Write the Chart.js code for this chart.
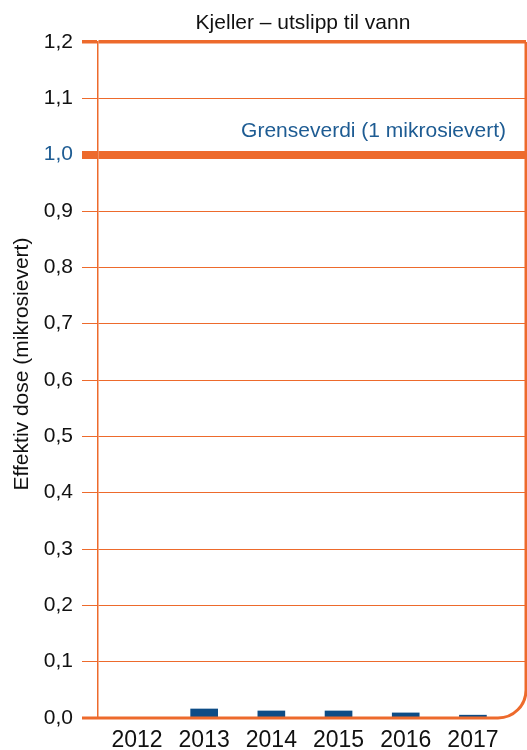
<!DOCTYPE html>
<html>
<head>
<meta charset="utf-8">
<script src="https://cdn.jsdelivr.net/npm/chart.js@4/dist/chart.umd.min.js"></script>
<style>
  html, body { margin: 0; padding: 0; background: #ffffff; }
  #wrap { width: 527px; height: 750px; position: relative; }
</style>
</head>
<body>
<div id="wrap"><canvas id="c"></canvas></div>
<script>
// Årlig effektiv dose fra utslipp til vann, Kjeller
const categories = ['2012', '2013', '2014', '2015', '2016', '2017'];
const doses = [0, 0.016, 0.0125, 0.0125, 0.009, 0.005];
const limitValue = 1.0;
const limitLabel = 'Grenseverdi (1 mikrosievert)';
const chartTitle = 'Kjeller – utslipp til vann';
const yTitle = 'Effektiv dose (mikrosievert)';
const yTicks = [0, 0.1, 0.2, 0.3, 0.4, 0.5, 0.6, 0.7, 0.8, 0.9, 1.0, 1.1, 1.2];

const ORANGE = '#ED6A2C';
const BLUE = '#0D4C86';
const TEXTBLUE = '#1E5C93';
const DARK = '#111111';
const FONT = 'Liberation Sans, Arial, sans-serif';

const isVal = (v, t) => Math.abs(v - t) < 1e-6;

// Frame: right edge with rounded lower corner, zero line, titles and limit text
const framePlugin = {
  id: 'frame',
  afterDatasetsDraw(chart) {
    const { ctx, chartArea, scales } = chart;
    const y = scales.y;
    const bottom = y.getPixelForValue(0);
    const top = y.getPixelForValue(y.max);
    const right = chartArea.right;
    const r = 28;
    ctx.save();
    ctx.strokeStyle = ORANGE;
    ctx.lineCap = 'butt';
    // zero line with rounded corner up into the right edge
    ctx.lineWidth = 3;
    ctx.beginPath();
    ctx.moveTo(chartArea.left - 16, bottom);
    ctx.lineTo(right - r, bottom);
    ctx.arcTo(right, bottom, right, bottom - r, r);
    ctx.lineTo(right, top);
    ctx.stroke();

    // limit label above the limit line
    ctx.fillStyle = TEXTBLUE;
    ctx.font = '21px ' + FONT;
    ctx.textAlign = 'right';
    ctx.textBaseline = 'alphabetic';
    ctx.fillText(limitLabel, right - 20, y.getPixelForValue(limitValue) - 18);

    // chart title, centred a little left of the plot middle
    ctx.fillStyle = DARK;
    ctx.font = '21px ' + FONT;
    ctx.textAlign = 'center';
    ctx.fillText(chartTitle, (chartArea.left + right) / 2 - 9, 29);

    // y axis title
    ctx.translate(28, (top + bottom) / 2 - 16);
    ctx.rotate(-Math.PI / 2);
    ctx.font = '21px ' + FONT;
    ctx.textAlign = 'center';
    ctx.fillText(yTitle, 0, 0);
    ctx.restore();
  }
};

new Chart(document.getElementById('c'), {
  type: 'bar',
  data: {
    datasets: [{
      data: categories.map((c, i) => ({ x: i, y: doses[i] })),
      backgroundColor: BLUE,
      borderWidth: 0,
      barThickness: 27
    }]
  },
  options: {
    responsive: true,
    maintainAspectRatio: false,
    animation: false,
    devicePixelRatio: 1,
    layout: { padding: { left: 0, right: 1, top: 42, bottom: 0 } },
    plugins: {
      legend: { display: false },
      tooltip: { enabled: false },
      title: { display: false }
    },
    scales: {
      x: {
        type: 'linear',
        offset: false,
        min: -0.58,
        max: 5.79,
        grid: { display: false },
        border: { display: false },
        afterBuildTicks: s => { s.ticks = categories.map((c, i) => ({ value: i })); },
        afterFit: s => { s.height = 32; },
        ticks: {
          autoSkip: false,
          maxRotation: 0,
          padding: 1,
          color: DARK,
          font: { family: FONT, size: 23 },
          callback: v => categories[v] ?? ''
        }
      },
      y: {
        min: 0,
        max: 1.2,
        afterBuildTicks: s => { s.ticks = yTicks.map(v => ({ value: v })); },
        afterFit: s => { s.width = 98; },
        grid: {
          color: ORANGE,
          tickLength: 16,
          tickColor: ORANGE,
          lineWidth: c => {
            const v = c.tick ? c.tick.value : 0;
            if (isVal(v, 0)) return 0;
            if (isVal(v, limitValue)) return 8;
            if (isVal(v, 1.2)) return 3.5;
            return 1;
          }
        },
        border: { display: true, color: ORANGE, width: 1.5 },
        title: { display: false },
        ticks: {
          padding: 9,
          font: { family: FONT, size: 21 },
          color: c => isVal(c.tick.value, limitValue) ? TEXTBLUE : DARK,
          callback: v => v.toFixed(1).replace('.', ',')
        }
      }
    }
  },
  plugins: [framePlugin]
});
</script>
</body>
</html>
